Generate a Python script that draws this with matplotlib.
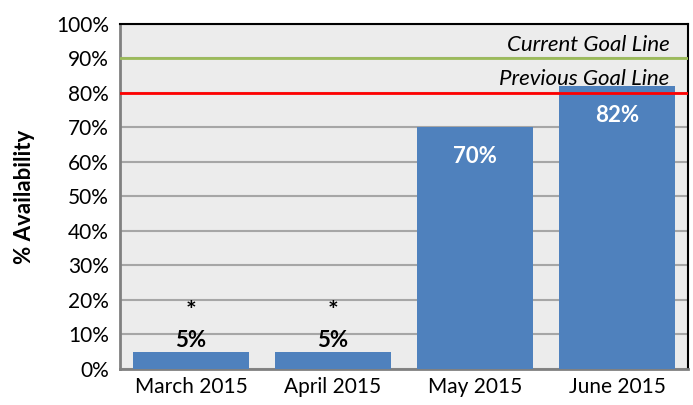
import matplotlib
matplotlib.use("Agg")
import matplotlib.pyplot as plt

months = ["March 2015", "April 2015", "May 2015", "June 2015"]
availability = [5, 5, 70, 82]
notes = ["*", "*", "", ""]
current_goal = 90
previous_goal = 80

plt.rcParams["font.family"] = ["Lato", "DejaVu Sans"]

fig = plt.figure(figsize=(6.93, 4.05), dpi=100)
ax = fig.add_axes([0.173, 0.089, 0.820, 0.852])
ax.set_facecolor("#ececec")

x = range(len(months))
bars = ax.bar(x, availability, width=0.82, color="#4f81bd", zorder=3)

ax.set_ylim(0, 100)
ax.set_xlim(-0.5, len(months) - 0.5)
ax.set_yticks(range(0, 101, 10))
ax.set_yticklabels(["%d%%" % v for v in range(0, 101, 10)], fontsize=15)
ax.set_xticks(list(x))
ax.set_xticklabels(months, fontsize=15)
ax.tick_params(axis="y", length=0, pad=8)
ax.tick_params(axis="x", length=0, pad=6)
ax.yaxis.grid(True, color="#a6a6a6", linewidth=1.5, zorder=1)
ax.set_axisbelow(True)

for s in ["left", "bottom"]:
    ax.spines[s].set_color("#808080")
    ax.spines[s].set_linewidth(2)
ax.spines["top"].set_color("black")
ax.spines["right"].set_color("black")
ax.spines["top"].set_linewidth(1.5)
ax.spines["right"].set_linewidth(1.5)

ax.axhline(current_goal, color="#9bbb59", linewidth=2, zorder=4)
ax.axhline(previous_goal, color="#ff0000", linewidth=2, zorder=4)
ax.text(3.37, current_goal + 1.0, "Current Goal Line", ha="right", va="bottom",
        fontsize=16, style="italic", zorder=5)
ax.text(3.37, previous_goal + 1.0, "Previous Goal Line", ha="right", va="bottom",
        fontsize=16, style="italic", zorder=5)

for i, v in enumerate(availability):
    if v < 20:
        ax.text(i, v + 0.3, "%d%%" % v, ha="center", va="bottom", fontsize=16,
                fontweight="bold", zorder=5)
        ax.text(i, v + 8.4, notes[i], ha="center", va="bottom", fontsize=18,
                fontweight="bold", zorder=5)
    else:
        ax.text(i, v - 5.5, "%d%%" % v, ha="center", va="top", fontsize=16,
                fontweight="bold", color="white", zorder=5)

fig.text(0.035, 0.515, "% Availability", rotation=90, ha="center", va="center",
         fontsize=16, fontweight="bold")

fig.savefig("out.png", dpi=100)
